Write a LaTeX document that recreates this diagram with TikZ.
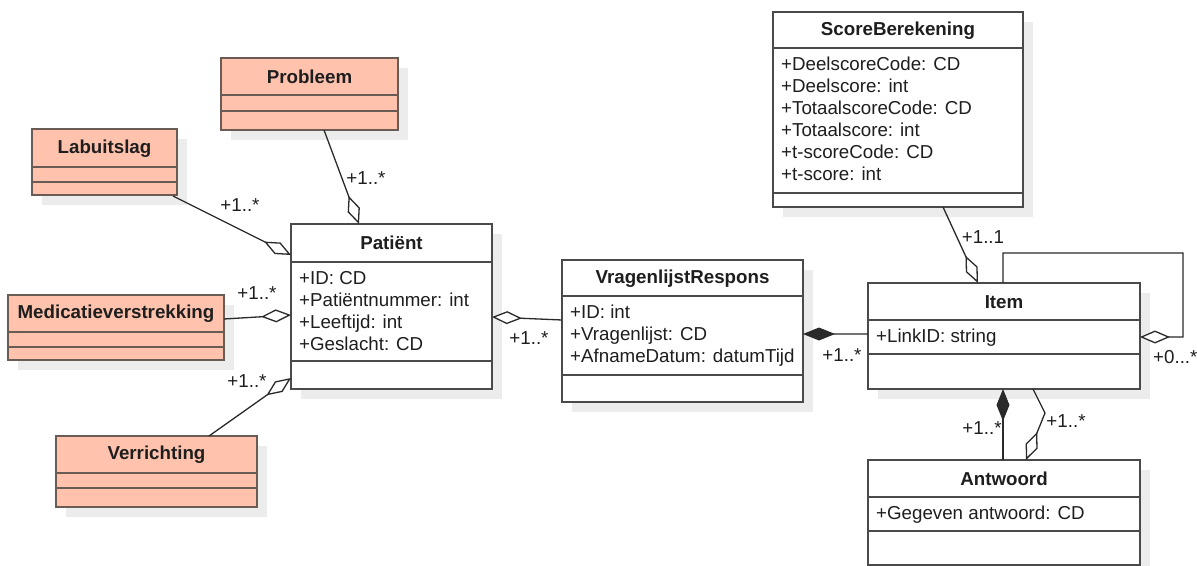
\documentclass[tikz,border=0pt]{standalone}
\usepackage{fontspec}
\setmainfont{Liberation Sans}
\usetikzlibrary{arrows.meta,fit}

\definecolor{pinkfill}{HTML}{FFC2AD}
\definecolor{pinkedge}{HTML}{6B5B55}
\definecolor{boxedge}{HTML}{4A4A4A}
\definecolor{dropgray}{HTML}{ECECEC}
\definecolor{ink}{HTML}{1E1E1E}
\definecolor{wire}{HTML}{2A2A2A}

\tikzset{
  classframe/.style={draw=boxedge, line width=1.6bp, inner sep=0pt, outer sep=0pt},
  dropshadow/.style={fill=dropgray, draw=none},
  sepline/.style={line width=1.6bp},
  classtitle/.style={font=\fontsize{18.8}{22}\selectfont\bfseries, text=ink, inner sep=0pt},
  attrtext/.style={font=\fontsize{18.8}{22}\selectfont, text=ink, inner sep=0pt, anchor=base west},
  mult/.style={font=\fontsize{18.8}{22}\selectfont, text=ink, inner sep=0pt},
  conn/.style={draw=wire, line width=1.3bp},
  aggstart/.style={{Diamond[fill=white,length=30bp,width=13bp]}-},
  compstart/.style={{Diamond[length=32bp,width=13bp]}-},
}

% class frame: name, left, top, right, bottom, title separator, attribute separator, fill, edge
\newcommand\umlclass[9]{%
  \path[dropshadow] (#2+10,#3+10) rectangle (#4+10,#5+10);
  \node[classframe, fill=#8, draw=#9, fit={(#2,#3) (#4,#5)}] (#1) {};
  \draw[sepline, draw=#9] (#2,#6) -- (#4,#6);
  \draw[sepline, draw=#9] (#2,#7) -- (#4,#7);
}
% attribute lines: name, x, first baseline, list
\newcommand\umlattrs[4]{%
  \foreach \t [count=\i] in {#4}
    \node[attrtext] (#1-a\i) at (#2, #3+22*\i-22) {\t};
}

\begin{document}
\begin{tikzpicture}[x=1bp, y=-1bp]
\useasboundingbox (0,0) rectangle (1197,566);
\fill[white] (0,0) rectangle (1197,566);

% ---- classes ----
\umlclass{prob}{221}{58}{398}{130}{95}{111}{pinkfill}{pinkedge}
\node[classtitle] (prob-t) at (309.5,77) {Probleem};

\umlclass{lab}{32}{129}{177}{195}{167}{182}{pinkfill}{pinkedge}
\node[classtitle] (lab-t) at (104.5,148.5) {Labuitslag};

\umlclass{med}{8}{295}{224}{360}{332}{347}{pinkfill}{pinkedge}
\node[classtitle] (med-t) at (116,313.5) {Medicatieverstrekking};

\umlclass{ver}{56}{436}{257}{507}{473}{488}{pinkfill}{pinkedge}
\node[classtitle] (ver-t) at (156.5,455) {Verrichting};

\umlclass{pat}{291}{224}{492}{389}{262}{361}{white}{boxedge}
\node[classtitle] (pat-t) at (391.5,243) {Patiënt};
\umlattrs{pat}{299}{284.7}{+ID: CD, +Patiëntnummer: int, +Leeftijd: int, +Geslacht: CD}

\umlclass{vr}{562}{260}{803}{402}{296}{375}{white}{boxedge}
\node[classtitle] (vr-t) at (682.5,278.5) {VragenlijstRespons};
\umlattrs{vr}{570}{318.7}{+ID: int, +Vragenlijst: CD, +AfnameDatum: datumTijd}

\umlclass{score}{773}{12}{1023}{207}{48}{193}{white}{boxedge}
\node[classtitle] (score-t) at (898,31) {ScoreBerekening};
\umlattrs{score}{781}{70.7}{+DeelscoreCode: CD, +Deelscore: int, +TotaalscoreCode: CD, +Totaalscore: int, +t-scoreCode: CD, +t-score: int}

\umlclass{item}{868}{283}{1140}{389}{320}{354}{white}{boxedge}
\node[classtitle] (item-t) at (1004,302) {Item};
\umlattrs{item}{876}{342.7}{+LinkID: string}

\umlclass{ant}{868}{460}{1140}{565}{497}{531}{white}{boxedge}
\node[classtitle] (ant-t) at (1004,479) {Antwoord};
\umlattrs{ant}{876}{519.7}{+Gegeven antwoord: CD}

% ---- associations ----
\draw[conn, aggstart] ([xshift=68bp]pat.north west) -- ([xshift=103bp]prob.south west);
\draw[conn, aggstart] ([yshift=-31bp]pat.north west) -- ([xshift=141bp,yshift=-1bp]lab.south west);
\draw[conn, aggstart] ([yshift=-91bp]pat.north west) -- ([yshift=-24bp]med.north east);
\draw[conn, aggstart] ([yshift=-154bp]pat.north west) -- ([xshift=153bp]ver.north west);
\draw[conn, aggstart] ([yshift=-93bp]pat.north east) -- ([yshift=-60bp]vr.north west);
\draw[conn, compstart] ([yshift=-74bp]vr.north east) -- ([yshift=-51bp]item.north west);
\draw[conn, aggstart] ([xshift=110bp]item.north west) -- ([xshift=170bp]score.south west);
\draw[conn, aggstart] ([yshift=-54bp]item.north east) -- ++(43,0) -- ++(0,-84) -- ++(-180,0) -- ([xshift=135bp]item.north west);
\draw[conn, compstart] ([xshift=135bp]item.south west) -- ([xshift=135bp]ant.north west);
\coordinate (bend) at (1045,413);
\draw[conn, aggstart] ([xshift=158bp]ant.north west) -- (bend) -- ([xshift=165bp]item.south west);

% ---- multiplicities ----
\node[mult] (m-prob) at (366,178) {+1..*};
\node[mult] (m-lab) at (240,205) {+1..*};
\node[mult] (m-med) at (257,293) {+1..*};
\node[mult] (m-ver) at (247,381) {+1..*};
\node[mult] (m-vr) at (529,338) {+1..*};
\node[mult] (m-item) at (842,355) {+1..*};
\node[mult] (m-score) at (983,237) {+1..1};
\node[mult, anchor=west] (m-self) at (1153,357) {+0...*};
\node[mult] (m-comp) at (982,428) {+1..*};
\node[mult] (m-agg) at (1066,421) {+1..*};
\end{tikzpicture}
\end{document}
